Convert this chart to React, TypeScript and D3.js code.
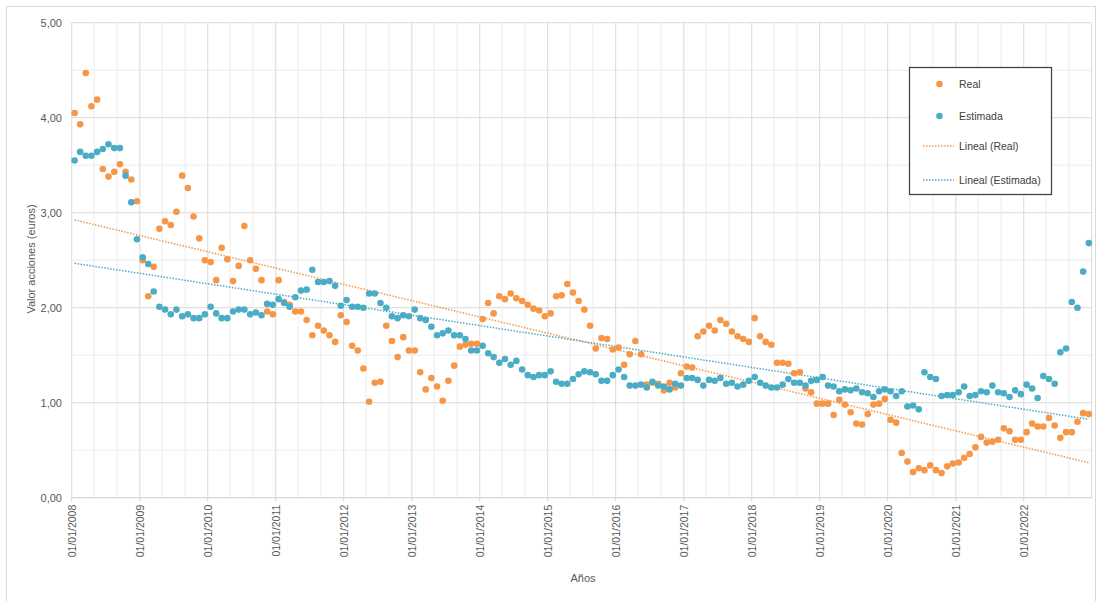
import React, { useEffect, useRef } from "react";
import * as d3 from "d3";

// valores mensuales desde 01/2008 hasta 12/2022
const real = [
  4.05, 3.93, 4.47, 4.12, 4.19, 3.46, 3.38, 3.43, 3.51, 3.43, 3.35, 3.12,
  2.5, 2.12, 2.43, 2.83, 2.91, 2.87, 3.01, 3.39, 3.26, 2.96, 2.73, 2.5,
  2.48, 2.29, 2.63, 2.51, 2.28, 2.44, 2.86, 2.5, 2.41, 2.29, 1.96, 1.93,
  2.29, 2.06, 2.03, 1.96, 1.96, 1.87, 1.71, 1.81, 1.76, 1.71, 1.64, 1.92,
  1.85, 1.6, 1.55, 1.36, 1.01, 1.21, 1.22, 1.81, 1.65, 1.48, 1.69, 1.55,
  1.55, 1.32, 1.14, 1.26, 1.17, 1.02, 1.23, 1.39, 1.59, 1.61, 1.62, 1.62,
  1.88, 2.05, 1.94, 2.12, 2.09, 2.15, 2.1, 2.07, 2.03, 1.99, 1.97, 1.91,
  1.94, 2.12, 2.13, 2.25, 2.16, 2.07, 1.98, 1.81, 1.57, 1.68, 1.67, 1.56,
  1.58, 1.4, 1.51, 1.65, 1.51, 1.19, 1.21, 1.2, 1.13, 1.21, 1.16, 1.31,
  1.38, 1.37, 1.7, 1.75, 1.81, 1.76, 1.87, 1.83, 1.75, 1.7, 1.67, 1.64,
  1.89, 1.7, 1.64, 1.61, 1.42, 1.42, 1.41, 1.31, 1.32, 1.15, 1.11, 0.99,
  0.99, 0.99, 0.87, 1.03, 0.98, 0.9, 0.78, 0.77, 0.88, 0.98, 0.99, 1.04,
  0.82, 0.79, 0.47, 0.38, 0.27, 0.31, 0.29, 0.34, 0.29, 0.26, 0.33, 0.36,
  0.37, 0.42, 0.46, 0.53, 0.64, 0.58, 0.59, 0.61, 0.73, 0.7, 0.61, 0.61,
  0.69, 0.78, 0.75, 0.75, 0.84, 0.76, 0.63, 0.69, 0.69, 0.8, 0.89, 0.88,
];

const estimada = [
  3.55, 3.64, 3.6, 3.6, 3.64, 3.67, 3.72, 3.68, 3.68, 3.39, 3.11, 2.72,
  2.53, 2.46, 2.17, 2.01, 1.98, 1.93, 1.98, 1.91, 1.93, 1.89, 1.89, 1.93,
  2.01, 1.94, 1.89, 1.89, 1.96, 1.98, 1.98, 1.93, 1.95, 1.92, 2.04, 2.03,
  2.09, 2.05, 2.01, 2.11, 2.18, 2.19, 2.4, 2.27, 2.27, 2.28, 2.23, 2.02,
  2.08, 2.01, 2.01, 2.0, 2.15, 2.15, 2.05, 2.0, 1.91, 1.89, 1.92, 1.91,
  1.98, 1.89, 1.87, 1.8, 1.71, 1.73, 1.76, 1.71, 1.71, 1.67, 1.55, 1.55,
  1.6, 1.52, 1.48, 1.42, 1.46, 1.4, 1.44, 1.35, 1.29, 1.27, 1.29, 1.29,
  1.33, 1.22, 1.2, 1.2, 1.25, 1.3, 1.33, 1.32, 1.3, 1.23, 1.23, 1.29,
  1.35, 1.27, 1.18, 1.18, 1.19, 1.16, 1.22, 1.18, 1.17, 1.14, 1.2, 1.18,
  1.26, 1.26, 1.24, 1.18, 1.24, 1.23, 1.26, 1.2, 1.21, 1.17, 1.19, 1.23,
  1.27, 1.21, 1.18, 1.16, 1.16, 1.19, 1.25, 1.21, 1.21, 1.18, 1.23, 1.24,
  1.27, 1.18, 1.17, 1.12, 1.14, 1.13, 1.15, 1.11, 1.1, 1.06, 1.12, 1.14,
  1.12, 1.07, 1.12, 0.96, 0.97, 0.93, 1.32, 1.27, 1.25, 1.07, 1.08, 1.08,
  1.11, 1.17, 1.07, 1.08, 1.12, 1.11, 1.18, 1.11, 1.1, 1.06, 1.13, 1.09,
  1.19, 1.15, 1.05, 1.28, 1.25, 1.2, 1.53, 1.57, 2.06, 2.0, 2.38, 2.68,
];

const yTicks = [0, 1, 2, 3, 4, 5];
const legendItems = ["Real", "Estimada", "Lineal (Real)", "Lineal (Estimada)"];

const ORANGE = "#f79646";
const BLUE = "#4bacc6";
const W = 1098;
const H = 601;
const FONT = "'Liberation Sans', Arial, sans-serif";

const startDate = new Date(2008, 0, 1);
const endDate = new Date(2023, 0, 1);
const months = d3.timeMonth.range(startDate, endDate);

const App = () => {
  const svgRef = useRef<SVGSVGElement>(null);

  useEffect(() => {
    const svg = d3.select(svgRef.current);
    svg.selectAll("*").remove();

    const xScale = d3.scaleTime().domain([startDate, endDate]).range([71.7, 1091.7]);
    const yScale = d3.scaleLinear().domain([0, 5]).range([497.7, 22.7]);

    // punto en el centro del mes
    const px = (d: Date) => (xScale(d) + xScale(d3.timeMonth.offset(d, 1))) / 2;

    // borde del gráfico
    svg
      .append("rect")
      .attr("x", 6.5)
      .attr("y", 6.5)
      .attr("width", 1089)
      .attr("height", 620)
      .attr("fill", "#fff")
      .attr("stroke", "#d9d9d9");

    const grid = svg.append("g");
    // líneas horizontales cada 0,5
    d3.range(0, 5.01, 0.5).forEach((v) => {
      grid
        .append("line")
        .attr("x1", 71.7)
        .attr("x2", 1091.7)
        .attr("y1", yScale(v))
        .attr("y2", yScale(v))
        .attr("stroke", Number.isInteger(v) ? "#d9d9d9" : "#ececec");
    });
    // verticales cada 4 meses
    const vTicks = d3.timeMonth.every(4)!.range(startDate, d3.timeMonth.offset(endDate, 1));
    vTicks.forEach((d) => {
      const isYear = d.getMonth() === 0;
      grid
        .append("line")
        .attr("x1", xScale(d))
        .attr("x2", xScale(d))
        .attr("y1", yScale(5))
        .attr("y2", yScale(0))
        .attr("stroke", isYear ? "#d9d9d9" : "#ececec");
    });

    // eje x
    svg
      .append("line")
      .attr("x1", 71.7)
      .attr("x2", 1091.7)
      .attr("y1", yScale(0))
      .attr("y2", yScale(0))
      .attr("stroke", "#d9d9d9");

    const years = d3.timeYear.range(startDate, endDate);
    years.forEach((d) => {
      svg
        .append("line")
        .attr("x1", xScale(d))
        .attr("x2", xScale(d))
        .attr("y1", yScale(0))
        .attr("y2", yScale(0) + 4)
        .attr("stroke", "#d9d9d9");
      svg
        .append("text")
        .attr("transform", `translate(${xScale(d) + 4},${yScale(0) + 7}) rotate(-90)`)
        .attr("text-anchor", "end")
        .attr("fill", "#595959")
        .style("font-family", FONT)
        .style("font-size", "10.5px")
        .text(d3.timeFormat("%d/%m/%Y")(d));
    });

    // eje y
    yTicks.forEach((v) => {
      svg
        .append("text")
        .attr("x", 62)
        .attr("y", yScale(v))
        .attr("dy", "0.35em")
        .attr("text-anchor", "end")
        .attr("fill", "#595959")
        .style("font-family", FONT)
        .style("font-size", "11px")
        .text(d3.format(".2f")(v).replace(".", ","));
    });

    svg
      .append("text")
      .attr("transform", `translate(35,259) rotate(-90)`)
      .attr("text-anchor", "middle")
      .attr("fill", "#595959")
      .style("font-family", FONT)
      .style("font-size", "11px")
      .text("Valor acciones (euros)");

    svg
      .append("text")
      .attr("x", 583)
      .attr("y", 582)
      .attr("text-anchor", "middle")
      .attr("fill", "#595959")
      .style("font-family", FONT)
      .style("font-size", "11px")
      .text("Años");

    // líneas de tendencia (mínimos cuadrados sobre la fecha)
    const trend = (values: number[]) => {
      const xs = months.map((d) => px(d));
      const mx = d3.mean(xs)!;
      const my = d3.mean(values)!;
      const slope =
        d3.sum(xs, (x, i) => (x - mx) * (values[i] - my)) /
        d3.sum(xs, (x) => (x - mx) * (x - mx));
      const b = my - slope * mx;
      const x0 = xs[0];
      const x1 = xs[xs.length - 1];
      return [
        [x0, yScale(slope * x0 + b)],
        [x1, yScale(slope * x1 + b)],
      ];
    };

    const series = [
      { values: real, color: ORANGE },
      { values: estimada, color: BLUE },
    ];

    series.forEach((s) => {
      const pts = trend(s.values);
      svg
        .append("path")
        .attr("d", d3.line()(pts as [number, number][]))
        .attr("fill", "none")
        .attr("stroke", s.color)
        .attr("stroke-width", 1.5)
        .attr("stroke-dasharray", "1.5,1.5");
    });

    series.forEach((s) => {
      svg
        .append("g")
        .selectAll("circle")
        .data(s.values)
        .enter()
        .append("circle")
        .attr("cx", (d, i) => px(months[i]))
        .attr("cy", (d) => yScale(d))
        .attr("r", 3.3)
        .attr("fill", s.color);
    });

    // leyenda
    const legend = svg.append("g");
    legend
      .append("rect")
      .attr("x", 909.5)
      .attr("y", 67.5)
      .attr("width", 142)
      .attr("height", 127)
      .attr("fill", "#fff")
      .attr("stroke", "#404040")
      .attr("stroke-width", 1.25);

    const legendY = [84, 116, 146, 180];
    legendItems.forEach((label, i) => {
      const color = i % 2 === 0 ? ORANGE : BLUE;
      if (i < 2) {
        legend
          .append("circle")
          .attr("cx", 939.5)
          .attr("cy", legendY[i])
          .attr("r", 3.3)
          .attr("fill", color);
      } else {
        legend
          .append("line")
          .attr("x1", 923)
          .attr("x2", 954)
          .attr("y1", legendY[i])
          .attr("y2", legendY[i])
          .attr("stroke", color)
          .attr("stroke-width", 1.5)
          .attr("stroke-dasharray", "1.5,1.5");
      }
      legend
        .append("text")
        .attr("x", 959)
        .attr("y", legendY[i])
        .attr("dy", "0.35em")
        .attr("fill", "#404040")
        .style("font-family", FONT)
        .style("font-size", "10.5px")
        .text(label);
    });
  }, []);

  return (
    <svg
      ref={svgRef}
      width={W}
      height={H}
      style={{ position: "absolute", left: 0, top: 0, background: "#fff" }}
    ></svg>
  );
};

export default App;
